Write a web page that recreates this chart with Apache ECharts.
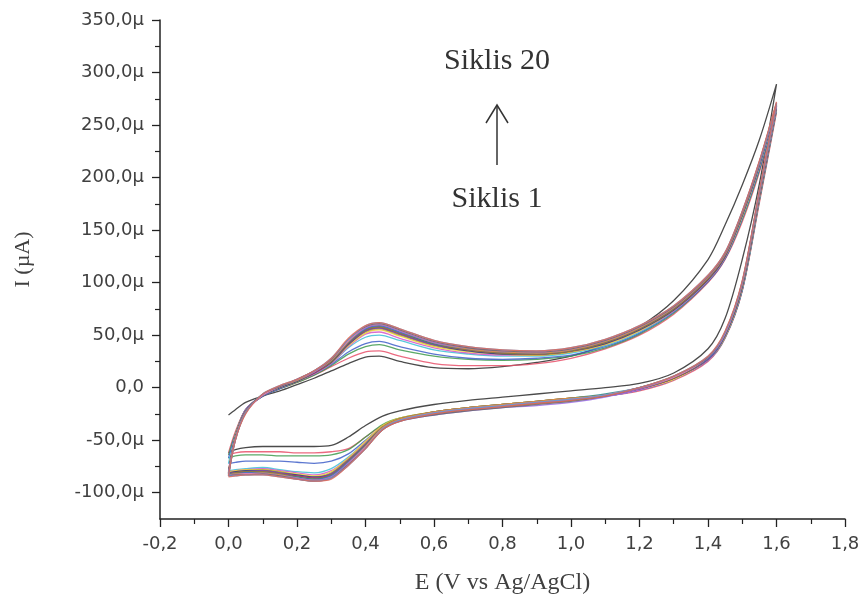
<!DOCTYPE html>
<html>
<head>
<meta charset="utf-8">
<script src="https://cdn.jsdelivr.net/npm/echarts@6/dist/echarts.min.js"></script>
<style>
  html, body { margin: 0; background: #fff; }
  #chart { width: 863px; height: 600px; }
</style>
</head>
<body>
<div id="chart"></div>
<script>
// potential grid (V vs Ag/AgCl), forward scan then reverse scan
const forwardE = [0, 0.02, 0.05, 0.1, 0.15, 0.2, 0.25, 0.3, 0.35, 0.4, 0.44, 0.5, 0.6, 0.7, 0.8, 0.9, 1.0, 1.1, 1.2, 1.3, 1.4, 1.45, 1.5, 1.55, 1.6];
const reverseE = [1.6, 1.55, 1.5, 1.45, 1.4, 1.3, 1.2, 1.1, 1.0, 0.9, 0.8, 0.7, 0.6, 0.5, 0.45, 0.4, 0.35, 0.3, 0.25, 0.2, 0.15, 0.1, 0.05, 0.02, 0];

const cycleColors = ["#2b2b2b", "#e8506a", "#3e9a4e", "#3f5fc8", "#3cbfd6", "#d455c8", "#f0d43c", "#b8a636",
  "#2f3a8a", "#8a49a8", "#a8345a", "#86863a", "#2a8a8a", "#4a6ae0", "#f0923c", "#9a6ae6",
  "#f184b4", "#6a6a6a", "#5a9ad6", "#e06a5a"];

// current (µA), forward branch, one row per cycle 1..20
const forwardI = [
  [-26, -21, -14, -8, -3, 3, 9, 16, 23, 29, 30, 25, 19, 18, 20, 24, 30, 41, 58, 83, 122, 155, 193, 236, 289],
  [-62, -42, -21, -8, -1, 5, 12, 20, 28, 34, 35, 30, 23, 21, 21, 23, 28, 37, 50, 70, 100, 122, 158, 205, 262],
  [-64, -44, -21, -8, -1, 5, 12, 21, 32, 39, 41, 36, 30, 27, 26, 27, 30, 38, 51, 71, 101, 123, 160, 207, 264],
  [-67, -45, -21, -8, -1, 6, 13, 22, 34, 42, 44, 39, 32, 28, 27, 28, 31, 39, 52, 72, 101, 123, 161, 208, 265],
  [-72, -46, -21, -7, 0, 6, 13, 23, 38, 48, 50, 45, 36, 32, 30, 30, 33, 40, 53, 73, 102, 124, 162, 210, 266],
  [-79, -46, -21, -7, 0, 6, 13, 23, 39, 51, 53, 47, 38, 33, 31, 31, 34, 41, 54, 73, 102, 124, 163, 211, 267],
  [-80, -46, -22, -7, 0, 6, 14, 24, 40, 52, 55, 49, 39, 34, 32, 31, 34, 41, 54, 74, 103, 125, 163, 211, 267],
  [-80, -47, -22, -7, 0, 6, 14, 24, 41, 53, 56, 50, 40, 35, 32, 31, 34, 42, 55, 74, 103, 125, 164, 212, 268],
  [-81, -47, -22, -7, 0, 6, 14, 24, 41, 54, 57, 51, 41, 35, 32, 32, 35, 42, 55, 74, 103, 125, 164, 212, 268],
  [-81, -48, -22, -7, 1, 7, 14, 25, 42, 54, 57, 51, 41, 36, 33, 32, 35, 43, 56, 75, 104, 126, 165, 212, 268],
  [-81, -48, -23, -7, 1, 7, 14, 25, 42, 55, 58, 52, 42, 36, 33, 32, 35, 43, 56, 75, 104, 126, 165, 213, 268],
  [-82, -48, -23, -7, 1, 7, 15, 25, 43, 55, 58, 52, 42, 36, 33, 32, 35, 43, 56, 75, 104, 126, 165, 213, 269],
  [-82, -48, -23, -7, 1, 7, 15, 26, 43, 56, 59, 53, 42, 37, 34, 33, 36, 44, 57, 76, 105, 127, 166, 213, 269],
  [-82, -49, -23, -7, 1, 7, 15, 26, 44, 56, 59, 53, 43, 37, 34, 33, 36, 44, 57, 76, 105, 127, 166, 214, 269],
  [-83, -49, -23, -7, 1, 7, 15, 26, 44, 57, 60, 54, 43, 37, 34, 33, 36, 44, 57, 76, 105, 127, 166, 214, 270],
  [-83, -49, -24, -7, 1, 8, 15, 27, 45, 57, 60, 54, 43, 38, 35, 34, 37, 45, 58, 77, 106, 128, 167, 214, 270],
  [-83, -49, -24, -7, 1, 8, 16, 27, 45, 58, 61, 55, 44, 38, 35, 34, 37, 45, 58, 77, 106, 128, 167, 215, 270],
  [-84, -50, -24, -6, 1, 8, 16, 27, 46, 58, 61, 55, 44, 38, 35, 34, 37, 45, 58, 77, 106, 128, 167, 215, 271],
  [-84, -50, -24, -6, 2, 8, 16, 28, 46, 59, 62, 56, 45, 39, 36, 35, 38, 46, 59, 78, 107, 129, 168, 215, 271],
  [-84, -50, -25, -6, 2, 8, 16, 28, 47, 59, 62, 56, 45, 39, 36, 35, 38, 46, 59, 78, 107, 129, 168, 216, 272]
];

// current (µA), reverse branch, one row per cycle 1..20
const reverseI = [
  [289, 194, 122, 66, 37, 14, 4, 0, -3, -6, -9, -12, -16, -22, -27, -36, -47, -55, -56, -56, -56, -56, -57, -59, -62],
  [262, 176, 92, 47, 25, 7, -3, -8, -11, -14, -17, -20, -24, -30, -36, -47, -58, -61, -62, -62, -61, -61, -61, -62, -64],
  [264, 178, 93, 48, 26, 8, -2, -7, -10, -13, -16, -19, -23, -29, -35, -47, -59, -64, -65, -65, -65, -64, -64, -65, -67],
  [265, 179, 93, 48, 26, 8, -2, -8, -11, -14, -17, -20, -24, -30, -37, -50, -63, -70, -72, -71, -70, -70, -70, -71, -72],
  [266, 180, 94, 48, 26, 8, -2, -8, -11, -14, -17, -20, -24, -30, -37, -52, -66, -77, -81, -80, -78, -76, -77, -78, -79],
  [267, 181, 95, 49, 26, 8, -2, -8, -11, -14, -17, -20, -24, -30, -37, -52, -67, -79, -83, -81, -79, -77, -78, -79, -80],
  [267, 181, 95, 49, 27, 8, -1, -7, -10, -13, -16, -19, -23, -29, -36, -51, -67, -80, -84, -82, -80, -78, -78, -79, -80],
  [268, 182, 96, 49, 27, 9, -1, -7, -10, -13, -16, -19, -23, -29, -37, -53, -68, -81, -85, -83, -80, -78, -79, -80, -81],
  [268, 182, 96, 50, 27, 9, -1, -8, -12, -15, -18, -21, -25, -31, -38, -54, -69, -82, -85, -83, -81, -79, -79, -80, -81],
  [268, 183, 97, 50, 27, 9, -1, -7, -11, -14, -17, -20, -24, -30, -38, -54, -69, -82, -86, -84, -81, -79, -80, -81, -81],
  [268, 183, 97, 50, 28, 9, -1, -7, -10, -13, -16, -19, -23, -30, -38, -55, -70, -83, -86, -84, -82, -80, -80, -81, -82],
  [269, 184, 98, 51, 28, 9, -1, -8, -12, -15, -18, -21, -25, -31, -39, -55, -70, -83, -87, -85, -82, -80, -80, -81, -82],
  [269, 184, 98, 51, 28, 10, 0, -6, -10, -13, -16, -19, -23, -30, -38, -55, -71, -84, -87, -85, -83, -81, -81, -82, -82],
  [269, 185, 99, 51, 28, 10, 0, -7, -11, -14, -17, -20, -24, -31, -39, -56, -71, -84, -88, -86, -83, -81, -81, -82, -83],
  [270, 185, 99, 52, 29, 10, 0, -7, -10, -13, -16, -19, -23, -30, -38, -56, -72, -85, -88, -86, -83, -81, -82, -82, -83],
  [270, 186, 100, 52, 29, 10, -1, -9, -14, -17, -19, -22, -26, -32, -40, -57, -72, -85, -88, -86, -84, -82, -82, -83, -83],
  [270, 186, 100, 52, 29, 10, 0, -7, -11, -14, -17, -20, -24, -31, -39, -57, -73, -86, -89, -87, -84, -82, -82, -83, -84],
  [271, 187, 101, 53, 29, 11, 0, -8, -13, -16, -19, -22, -26, -32, -40, -58, -73, -86, -89, -87, -84, -82, -83, -83, -84],
  [271, 187, 101, 53, 30, 11, 0, -7, -11, -14, -17, -20, -24, -31, -39, -58, -74, -86, -89, -87, -85, -83, -83, -84, -84],
  [272, 188, 102, 54, 30, 11, 0, -8, -12, -15, -18, -21, -25, -32, -40, -58, -74, -87, -89, -87, -85, -83, -83, -84, -85]
];

const yTicks = [-100, -50, 0, 50, 100, 150, 200, 250, 300, 350];
const yMinorTicks = [-75, -25, 25, 75, 125, 175, 225, 275, 325];

var chartDom = document.getElementById("chart");
var myChart = echarts.init(chartDom);

var labelColor = "#404040";
var sansFont = "DejaVu Sans";
var serifFont = "Liberation Serif";

function fmtComma(v) {
  if (Math.abs(v) < 1e-9) return "0,0";
  return v.toFixed(1).replace(".", ",");
}

var series = forwardI.map(function (fw, k) {
  var pts = forwardE.map(function (e, i) { return [e, fw[i]]; })
    .concat(reverseE.map(function (e, i) { return [e, reverseI[k][i]]; }));
  return {
    name: "Siklis " + (k + 1),
    type: "line",
    xAxisIndex: 0,
    yAxisIndex: 0,
    symbol: "none",
    smooth: 0.3,
    lineStyle: { width: 1.3, color: cycleColors[k], opacity: 0.85 },
    data: pts,
  };
});

var option = {
  animation: false,
  backgroundColor: "#fff",
  grid: { left: 160, right: 18, top: 20, bottom: 79, containLabel: false },
  xAxis: {
    type: "value",
    min: -0.2,
    max: 1.8,
    interval: 0.2,
    name: "E (V vs Ag/AgCl)",
    nameLocation: "middle",
    nameGap: 52,
    nameTextStyle: { fontFamily: serifFont, fontSize: 24, color: labelColor },
    axisLine: { show: true, onZero: false, lineStyle: { color: "#222", width: 1.5 } },
    axisTick: { show: true, length: 8, lineStyle: { color: "#222", width: 1.3 } },
    minorTick: { show: true, splitNumber: 2, length: 5, lineStyle: { color: "#222", width: 1.2 } },
    axisLabel: {
      margin: 16,
      fontFamily: sansFont,
      fontSize: 18,
      color: labelColor,
      formatter: fmtComma,
    },
    splitLine: { show: false },
  },
  yAxis: [
    {
      type: "value",
      min: -125,
      max: 350,
      name: "I (µA)",
      nameLocation: "middle",
      nameGap: 126,
      nameTextStyle: { fontFamily: serifFont, fontSize: 22, color: labelColor, padding: [0, 0, 0, 20] },
      axisLine: { show: true, onZero: false, lineStyle: { color: "#222", width: 1.5 } },
      axisTick: { show: true, length: 8, customValues: yTicks, lineStyle: { color: "#222", width: 1.3 } },
      axisLabel: {
        margin: 16,
        fontFamily: sansFont,
        fontSize: 18,
        color: labelColor,
        customValues: yTicks,
        formatter: function (v) {
          return v === 0 ? "0,0" : fmtComma(v) + "µ";
        },
      },
      splitLine: { show: false },
    },
    {
      // minor ticks only
      type: "value",
      min: -125,
      max: 350,
      position: "left",
      axisLine: { show: false, onZero: false },
      axisTick: { show: true, length: 5, customValues: yMinorTicks, lineStyle: { color: "#222", width: 1.2 } },
      axisLabel: { show: false },
      splitLine: { show: false },
    },
  ],
  graphic: [
    {
      type: "text",
      x: 497,
      y: 61,
      style: { text: "Siklis 20", align: "center", verticalAlign: "middle", font: "30px " + serifFont, fill: "#333" },
    },
    {
      type: "line",
      shape: { x1: 497, y1: 165, x2: 497, y2: 106 },
      style: { stroke: "#333", lineWidth: 1.5 },
    },
    {
      type: "polyline",
      shape: { points: [[486, 123], [497, 105], [508, 123]] },
      style: { stroke: "#333", lineWidth: 1.5, fill: null },
    },
    {
      type: "text",
      x: 497,
      y: 199,
      style: { text: "Siklis 1", align: "center", verticalAlign: "middle", font: "30px " + serifFont, fill: "#333" },
    },
  ],
  series: series,
};

myChart.setOption(option);
</script>
</body>
</html>
